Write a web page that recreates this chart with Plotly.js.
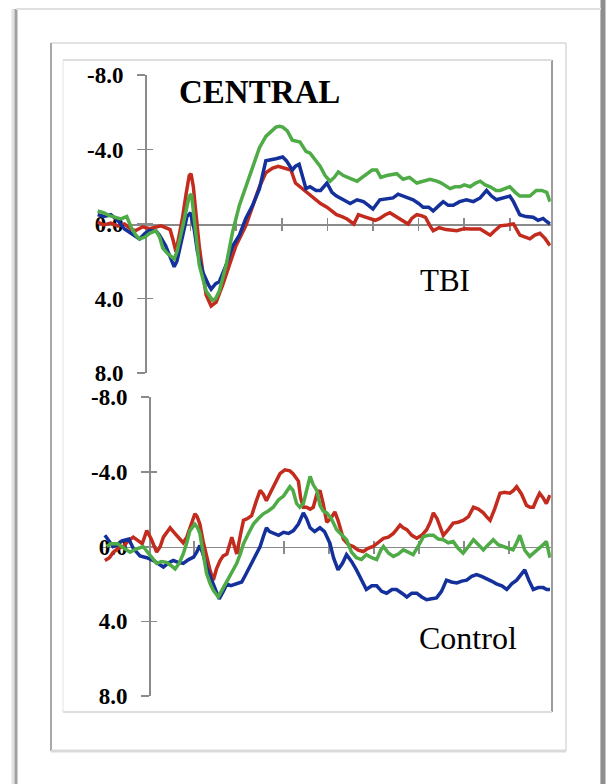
<!DOCTYPE html>
<html><head><meta charset="utf-8">
<script src="https://cdn.plot.ly/plotly-3.0.1.min.js"></script>
<style>html,body{margin:0;padding:0;background:#fff;} #chart{width:606px;height:784px;}</style>
</head><body><div id="chart"></div>
<script>
// ---------- DATA (time in ms, amplitude in µV; negative plotted up) ----------
const tbiRedT = [-104,-90,-75,-60,-45,-30,-20,-5,10,20,35,45,55,62,68,75,82,90,97,101,106,110,119,128,134,145,151,156,170,185,199,221,236,251,265,280,292,305,320,330,340,355,370,385,399,410,420,432,443,458,468,480,494,505,515,527,537,550,565,577,585,596,606,615,625,632,645,660,684,700,715,735,750,757,765,779,795,808,822,835,844,855,866,878,888];
const tbiRedV = [-0.1,0.05,-0.05,0.1,0.0,0.3,0.35,0.15,0.25,0.2,0.1,0.2,0.3,0.9,1.5,0.6,-0.3,-1.6,-2.6,-2.7,-2.0,-1.0,1.2,2.8,3.8,4.4,4.3,4.2,3.3,2.2,1.2,0.1,-1.0,-2.0,-2.75,-3.0,-3.1,-3.0,-2.9,-2.2,-2.0,-1.7,-1.4,-1.1,-0.9,-0.7,-0.5,-0.4,-0.27,0,-0.5,-0.4,-0.27,-0.2,-0.3,-0.5,-0.6,-0.4,-0.2,0,-0.3,-0.5,-0.45,-0.36,0.1,0.36,0.2,0.3,0.36,0.25,0.27,0.27,0.5,0.6,0.4,0.1,0.05,0,0.6,0.7,0.8,0.6,0.5,0.8,1.15];

const tbiBlueT = [-104,-90,-75,-60,-45,-30,-12,0,10,25,32,45,55,64,70,83,92,100,108,115,127,140,145,155,163,178,192,207,221,236,251,265,280,287,302,310,323,330,338,345,353,362,375,385,399,410,420,435,450,465,479,490,500,515,530,544,555,566,580,588,600,610,622,632,645,654,665,676,690,705,720,735,749,760,771,785,800,808,815,822,835,851,862,873,880,888];
const tbiBlueV = [-0.5,-0.4,-0.5,-0.2,0.27,0.5,0.8,0.5,0.35,0.4,0.6,1.15,1.8,2.3,2.0,0.6,-0.4,-0.6,0.3,1.5,2.6,3.3,3.5,3.2,3.1,2.2,1.2,0.6,-0.3,-1.0,-1.9,-3.4,-3.45,-3.5,-3.6,-3.4,-2.9,-3.1,-3.2,-2.6,-1.9,-2.0,-1.8,-1.8,-2.2,-1.7,-1.5,-1.3,-1.1,-1.3,-1.2,-1.0,-0.8,-1.3,-1.35,-1.4,-1.6,-1.5,-1.4,-1.3,-1.1,-0.9,-0.9,-0.7,-1.0,-1.2,-1.0,-1.0,-1.2,-1.3,-1.2,-1.4,-1.8,-1.5,-1.3,-1.4,-1.5,-1.2,-0.8,-0.5,-0.4,-0.36,-0.2,-0.3,-0.15,0];

const tbiGreenT = [-104,-90,-78,-65,-53,-40,-30,-20,-12,0,10,24,32,39,50,64,70,83,90,97,102,108,119,134,148,155,163,178,192,207,221,236,251,265,278,287,295,302,312,323,340,353,362,375,384,395,406,415,424,435,443,455,465,475,486,498,508,517,530,545,552,566,580,596,610,625,640,650,669,680,691,700,713,725,735,746,757,770,779,790,800,812,822,835,844,858,870,881,888];
const tbiGreenV = [-0.7,-0.6,-0.45,-0.35,-0.27,-0.4,0.2,0.6,0.8,0.7,0.5,0.36,0.7,1.3,1.6,1.87,1.5,0.1,-0.8,-1.5,-1.6,-0.3,2.2,3.6,4.1,4.0,3.6,2.2,0.44,-1.0,-2.0,-3.1,-4.1,-4.7,-5.0,-5.2,-5.25,-5.2,-5.0,-4.5,-4.4,-3.9,-3.8,-3.4,-3.1,-2.6,-2.3,-2.5,-2.8,-2.6,-2.5,-2.4,-2.3,-2.5,-2.7,-2.9,-2.9,-2.5,-2.6,-2.7,-2.7,-2.4,-2.5,-2.2,-2.3,-2.4,-2.3,-2.2,-1.9,-2.0,-2.0,-2.1,-2.0,-2.2,-2.3,-2.1,-2.0,-1.8,-1.8,-1.9,-2.0,-1.7,-1.5,-1.5,-1.5,-1.8,-1.8,-1.7,-1.2];

const ctlRedT = [-98,-88,-79,-68,-57,-46,-35,-25,-15,-5,5,17,25,32,40,47,54,61,68,76,84,91,97,102,107,113,120,128,136,143,150,158,165,173,178,184,190,195,203,210,219,228,238,247,254,261,268,276,284,291,302,313,320,326,332,337,343,350,358,365,373,380,387,395,404,413,420,432,443,454,465,476,487,498,510,521,532,543,550,558,565,573,584,595,606,617,625,632,640,647,654,665,676,687,698,710,721,732,743,750,758,768,780,790,802,810,817,828,839,847,854,861,868,876,883,891];
const ctlRedV = [0.75,0.6,0.3,0.1,0,-0.3,-0.5,-0.3,-0.15,-0.85,-0.4,0.3,0,-0.5,-0.8,-1.0,-0.8,-0.6,-0.4,-0.2,-0.5,-1.0,-1.5,-1.75,-1.6,-1.2,-0.3,0.57,1.3,1.8,1.2,0.75,0.5,0.4,0,-0.5,0,0.4,-0.6,-1.4,-1.5,-1.65,-2.4,-3.0,-2.8,-2.45,-2.8,-3.15,-3.5,-3.9,-4.1,-4.05,-3.9,-3.7,-3.5,-2.6,-2.1,-2.1,-2.0,-2.1,-2.8,-3.0,-2.3,-1.3,-1.5,-1.85,-1.4,-0.4,-0.1,0,0.2,0.27,0.1,0,-0.2,-0.44,-0.5,-0.7,-0.9,-1.15,-1.0,-0.9,-0.6,-0.44,-0.6,-0.9,-1.3,-1.8,-1.5,-1.0,-0.6,-0.9,-1.25,-1.3,-1.4,-1.6,-2.1,-2.0,-1.8,-1.6,-1.4,-2.0,-2.85,-2.9,-2.85,-3.0,-3.2,-2.8,-2.2,-2.1,-2.1,-2.5,-2.85,-2.6,-2.3,-2.75];

const ctlBlueT = [-98,-90,-80,-70,-60,-45,-35,-20,-5,10,20,32,42,54,65,76,88,99,106,113,120,128,136,143,150,156,165,173,182,195,206,215,224,235,247,255,261,268,276,288,299,310,321,332,343,350,358,368,380,390,402,410,420,430,439,450,461,472,483,495,506,517,528,540,550,562,573,584,595,606,617,628,639,650,661,672,684,695,706,717,728,739,750,761,772,784,795,806,817,826,835,844,854,865,876,884,891];
const ctlBlueV = [-0.6,-0.3,0,-0.1,-0.3,-0.4,0.1,0.5,0.6,0.75,0.9,1.1,0.9,0.75,0.85,0.9,0.7,0.57,0.3,-0.05,0.4,1.1,1.6,2.0,2.5,2.8,2.4,2.0,2.1,2.0,1.9,1.5,1.1,0.6,0,-0.6,-1.0,-0.8,-0.7,-0.6,-0.76,-0.7,-0.85,-1.2,-1.8,-1.5,-1.0,-0.8,-1.0,-0.8,-0.18,0.6,1.25,0.9,0.44,0.8,1.25,1.8,2.3,2.1,2.1,2.4,2.5,2.3,2.3,2.5,2.7,2.5,2.5,2.7,2.85,2.8,2.75,2.4,1.8,1.9,1.95,1.85,1.8,1.6,1.5,1.6,1.7,1.85,2.0,2.1,2.3,2.0,1.8,1.5,1.25,1.8,2.3,2.2,2.2,2.3,2.3];

const ctlGreenT = [-94,-85,-70,-56,-42,-30,-13,0,10,17,28,39,48,58,67,76,84,91,102,108,113,120,128,136,143,154,163,173,184,195,203,210,221,232,243,254,265,276,288,299,313,320,328,335,343,350,358,365,373,380,387,395,405,417,428,439,450,461,472,483,495,506,515,521,532,543,554,565,576,587,598,610,621,632,643,654,665,676,687,698,710,721,732,743,754,765,776,787,798,809,817,824,835,846,857,868,876,883,891];
const ctlGreenV = [0,-0.15,-0.15,0.1,0.3,0.15,0,0.4,0.7,0.9,0.8,0.85,1.0,1.2,0.9,0.4,-0.2,-0.85,-1.2,-1.0,-0.7,0.3,1.45,2.0,2.35,2.7,2.3,1.8,1.4,0.9,0.4,-0.15,-0.7,-1.2,-1.5,-1.75,-1.9,-2.1,-2.5,-2.7,-3.2,-3.0,-2.3,-2.1,-2.3,-3.0,-3.75,-3.3,-3.0,-2.2,-1.9,-1.8,-1.5,-0.9,-0.6,-0.36,0.3,0.6,0.7,0.44,0.6,0.7,0.2,0,0.35,0.53,0.4,0.18,0.3,0.44,0,-0.53,-0.6,-0.6,-0.4,-0.36,-0.2,-0.27,0.1,0.36,0,-0.36,-0.1,0.18,-0.1,-0.36,-0.1,0,0.1,0.18,-0.2,-0.6,0.2,0.53,0.3,0.1,-0.1,-0.27,0.6];

const yTickVals = [-8,-4,0,4,8];
const yTickText = ['-8.0','-4.0','0.0','4.0','8.0'];
const xTickVals = [100,200,300,400,500,600,700,800];
const titleText = 'CENTRAL';
const panelLabels = ['TBI','Control'];

// ---------- LAYOUT HELPERS ----------
const W = 606, H = 784;
const px = x => x / W;
const py = y => 1 - y / H;
const RED = '#c22b1d', BLUE = '#13309b', GREEN = '#4eab46';
const AX = '#8a8a8a';
const SERIF = 'Liberation Serif, Times New Roman, serif';

const panels = [
  {zero:145, s:0.456, top:75,  bot:373, range:[-105, 890]},
  {zero:149, s:0.450, top:397, bot:696, range:[-105, 893]}
];

const layout = {
  width: W, height: H,
  margin: {l:0, r:0, t:0, b:0, pad:0},
  paper_bgcolor: '#ffffff', plot_bgcolor: 'rgba(0,0,0,0)',
  showlegend: false,
  shapes: [], annotations: []
};

panels.forEach((p, i) => {
  const n = i * 2 + 1;
  const o = i * 2 + 2;
  const xd = [px(p.zero + p.range[0] * p.s), px(p.zero + p.range[1] * p.s)];
  const yd = [py(p.bot), py(p.top)];
  const yPos = xd[0] + (0 - p.range[0]) / (p.range[1] - p.range[0]) * (xd[1] - xd[0]);
  const xPos = (yd[0] + yd[1]) / 2;
  const xn = n === 1 ? 'xaxis' : 'xaxis' + n, yn = n === 1 ? 'yaxis' : 'yaxis' + n;
  const xid = n === 1 ? 'x' : 'x' + n, yid = n === 1 ? 'y' : 'y' + n;
  layout[xn] = {domain: xd, range: p.range, anchor: 'free', position: xPos,
    showline: true, linecolor: AX, linewidth: 1.5, ticks: 'inside', ticklen: 6,
    tickcolor: AX, tickwidth: 1.5, tickvals: xTickVals, showticklabels: false,
    showgrid: false, zeroline: false, layer: 'below traces', fixedrange: true};
  layout[yn] = {domain: yd, range: [8, -8], anchor: 'free', position: yPos,
    showline: true, linecolor: AX, linewidth: 1.5, ticks: 'outside', ticklen: 8,
    tickcolor: AX, tickwidth: 1.5, tickvals: yTickVals, ticktext: yTickText,
    tickfont: {family: SERIF, size: 23, color: '#000', weight: 700},
    ticklabelstandoff: 9, showgrid: false, zeroline: false, layer: 'below traces', fixedrange: true};
  layout['xaxis' + o] = {overlaying: xid, range: p.range, anchor: 'free', position: xPos,
    showline: false, ticks: 'outside', ticklen: 6, tickcolor: AX, tickwidth: 1.5,
    tickvals: xTickVals, showticklabels: false, showgrid: false, zeroline: false, layer: 'below traces'};
  layout['yaxis' + o] = {overlaying: yid, range: [8, -8], anchor: 'free', position: yPos,
    showline: false, ticks: 'inside', ticklen: 7, tickcolor: AX, tickwidth: 1.5,
    tickvals: yTickVals, showticklabels: false, showgrid: false, zeroline: false, layer: 'below traces'};
});

function rect(x0, y0, x1, y1, fill, line, lw) {
  layout.shapes.push({type: 'rect', xref: 'paper', yref: 'paper', layer: 'below',
    x0: px(x0), x1: px(x1), y0: py(y1), y1: py(y0), fillcolor: fill,
    line: {color: line, width: lw}});
}
function seg(x0, y0, x1, y1, color, lw) {
  layout.shapes.push({type: 'line', xref: 'paper', yref: 'paper', layer: 'below',
    x0: px(x0), x1: px(x1), y0: py(y0), y1: py(y1), line: {color: color, width: lw}});
}
rect(16, 9, 601, 800, '#ffffff', '#d0d0d0', 1);
seg(13, 9, 13, 784, '#e2e2e2', 3);
seg(16, 9, 16, 784, '#a0a0a0', 3);
seg(603, 0, 603, 784, '#8e8e8e', 5);
seg(16, 9, 601, 9, '#e0e0e0', 2);
rect(51, 43, 566, 751, '#ffffff', '#c6c6c6', 1);
seg(51, 43, 51, 751, '#a8a8a8', 2);
seg(51, 751, 566, 751, '#dadada', 3);
rect(63, 60, 552, 712, '#ffffff', '#e4e4e4', 1);
seg(552, 60, 552, 712, '#9c9c9c', 2);
seg(63, 60, 552, 60, '#dedede', 2);
seg(63, 712, 552, 712, '#dedede', 2);

layout.annotations.push(
  {text: '<b>' + titleText + '</b>', xref: 'paper', yref: 'paper', x: px(259.5), y: py(92),
   xanchor: 'center', yanchor: 'middle', showarrow: false,
   font: {family: SERIF, size: 33, color: '#000'}},
  {text: panelLabels[0], xref: 'paper', yref: 'paper', x: px(445), y: py(280),
   xanchor: 'center', yanchor: 'middle', showarrow: false,
   font: {family: SERIF, size: 31, color: '#000'}},
  {text: panelLabels[1], xref: 'paper', yref: 'paper', x: px(467.5), y: py(638),
   xanchor: 'center', yanchor: 'middle', showarrow: false,
   font: {family: SERIF, size: 32, color: '#000'}}
);

function line(x, y, color, xa, ya) {
  return {type: 'scatter', mode: 'lines', x: x, y: y, xaxis: xa, yaxis: ya,
    line: {color: color, width: 3.5}, hoverinfo: 'skip'};
}
const data = [
  line(tbiRedT, tbiRedV, RED, 'x', 'y'),
  line(tbiBlueT, tbiBlueV, BLUE, 'x', 'y'),
  line(tbiGreenT, tbiGreenV, GREEN, 'x', 'y'),
  line(ctlRedT, ctlRedV, RED, 'x3', 'y3'),
  line(ctlBlueT, ctlBlueV, BLUE, 'x3', 'y3'),
  line(ctlGreenT, ctlGreenV, GREEN, 'x3', 'y3'),
  {type: 'scatter', mode: 'lines', x: [], y: [], xaxis: 'x2', yaxis: 'y2', hoverinfo: 'skip'},
  {type: 'scatter', mode: 'lines', x: [], y: [], xaxis: 'x4', yaxis: 'y4', hoverinfo: 'skip'}
];

Plotly.newPlot('chart', data, layout, {staticPlot: true, displayModeBar: false});
</script>
</body></html>
